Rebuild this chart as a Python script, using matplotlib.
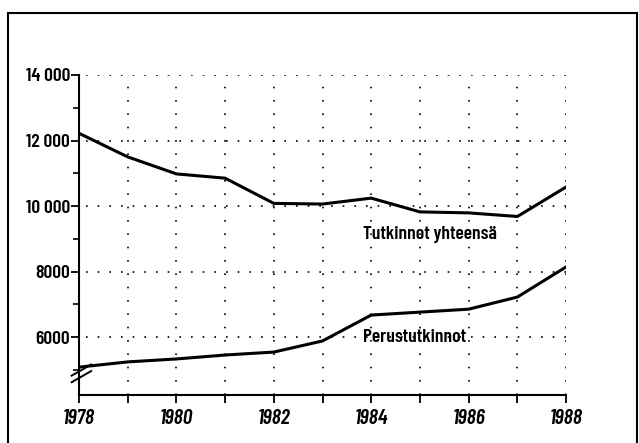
import matplotlib.pyplot as plt
from matplotlib.patches import Rectangle
from matplotlib.lines import Line2D

# vuodet ja tutkintojen määrät (luettu kuvasta)
years = [1978, 1979, 1980, 1981, 1982, 1983, 1984, 1985, 1986, 1987, 1988]
yhteensa = [12220, 11500, 10980, 10850, 10080, 10060, 10240, 9820, 9790, 9680, 10580]
perus = [5080, 5240, 5330, 5450, 5540, 5880, 6670, 6760, 6850, 7220, 8140]

xticks = [1978, 1980, 1982, 1984, 1986, 1988]
yticks = [6000, 8000, 10000, 12000, 14000]
ylabels = ["6000", "8000", "10 000", "12 000", "14 000"]

plt.rcParams['font.family'] = ['Barlow Condensed', 'DejaVu Sans']

fig = plt.figure(figsize=(6.39, 4.43), dpi=100)
ax = fig.add_axes([0.1236, 0.1084, 0.7623, 0.7223])

# kehys koko kuvan ympärillä
fig.patches.append(Rectangle((0.013, -0.01), 0.984, 0.98, transform=fig.transFigure,
                             fill=False, edgecolor="black", linewidth=1.5))

# pisteviivaruudukko
for yr in years[1:]:
    ax.plot([yr, yr], [4230, 14000], color="black", linewidth=1.2,
            linestyle=(0, (1, 7)), zorder=1)
for yv in yticks:
    ax.plot([1978.15, 1988], [yv, yv], color="black", linewidth=1.2,
            linestyle=(0, (1, 6)), zorder=1)

ax.plot(years, yhteensa, color="black", linewidth=2.2, zorder=3)
ax.plot(years, perus, color="black", linewidth=2.2, zorder=3)

ax.text(1983.83, 9120, "Tutkinnot yhteensä", fontsize=14, fontweight=600,
        ha="left", va="center")
ax.text(1983.83, 5970, "Perustutkinnot", fontsize=14, fontweight=600,
        ha="left", va="center")

ax.set_xlim(1978, 1988)
ax.set_ylim(4230, 14000)
ax.spines["top"].set_visible(False)
ax.spines["right"].set_visible(False)
ax.spines["left"].set_linewidth(1.5)
ax.spines["bottom"].set_linewidth(1.5)

ax.set_xticks(years)
ax.set_xticklabels([str(y) if y in xticks else "" for y in years],
                   fontsize=15.5, fontweight=600, style="italic")
ax.set_yticks(yticks)
ax.set_yticklabels(ylabels, fontsize=14, fontweight=600)
ax.set_yticks([5000, 7000, 9000, 11000, 13000], minor=True)
ax.tick_params(axis="both", direction="out", length=6, width=1.3, pad=0.5)
ax.tick_params(axis="y", which="minor", length=4, width=1.2)
ax.tick_params(axis="x", pad=4)

# katkosmerkki y-akselilla
for dy in (0, 200):
    ax.add_line(Line2D([1977.85, 1978.25], [4620 + dy, 4960 + dy], color="black",
                       linewidth=1.4, clip_on=False))

fig.savefig("out.png", dpi=100)
